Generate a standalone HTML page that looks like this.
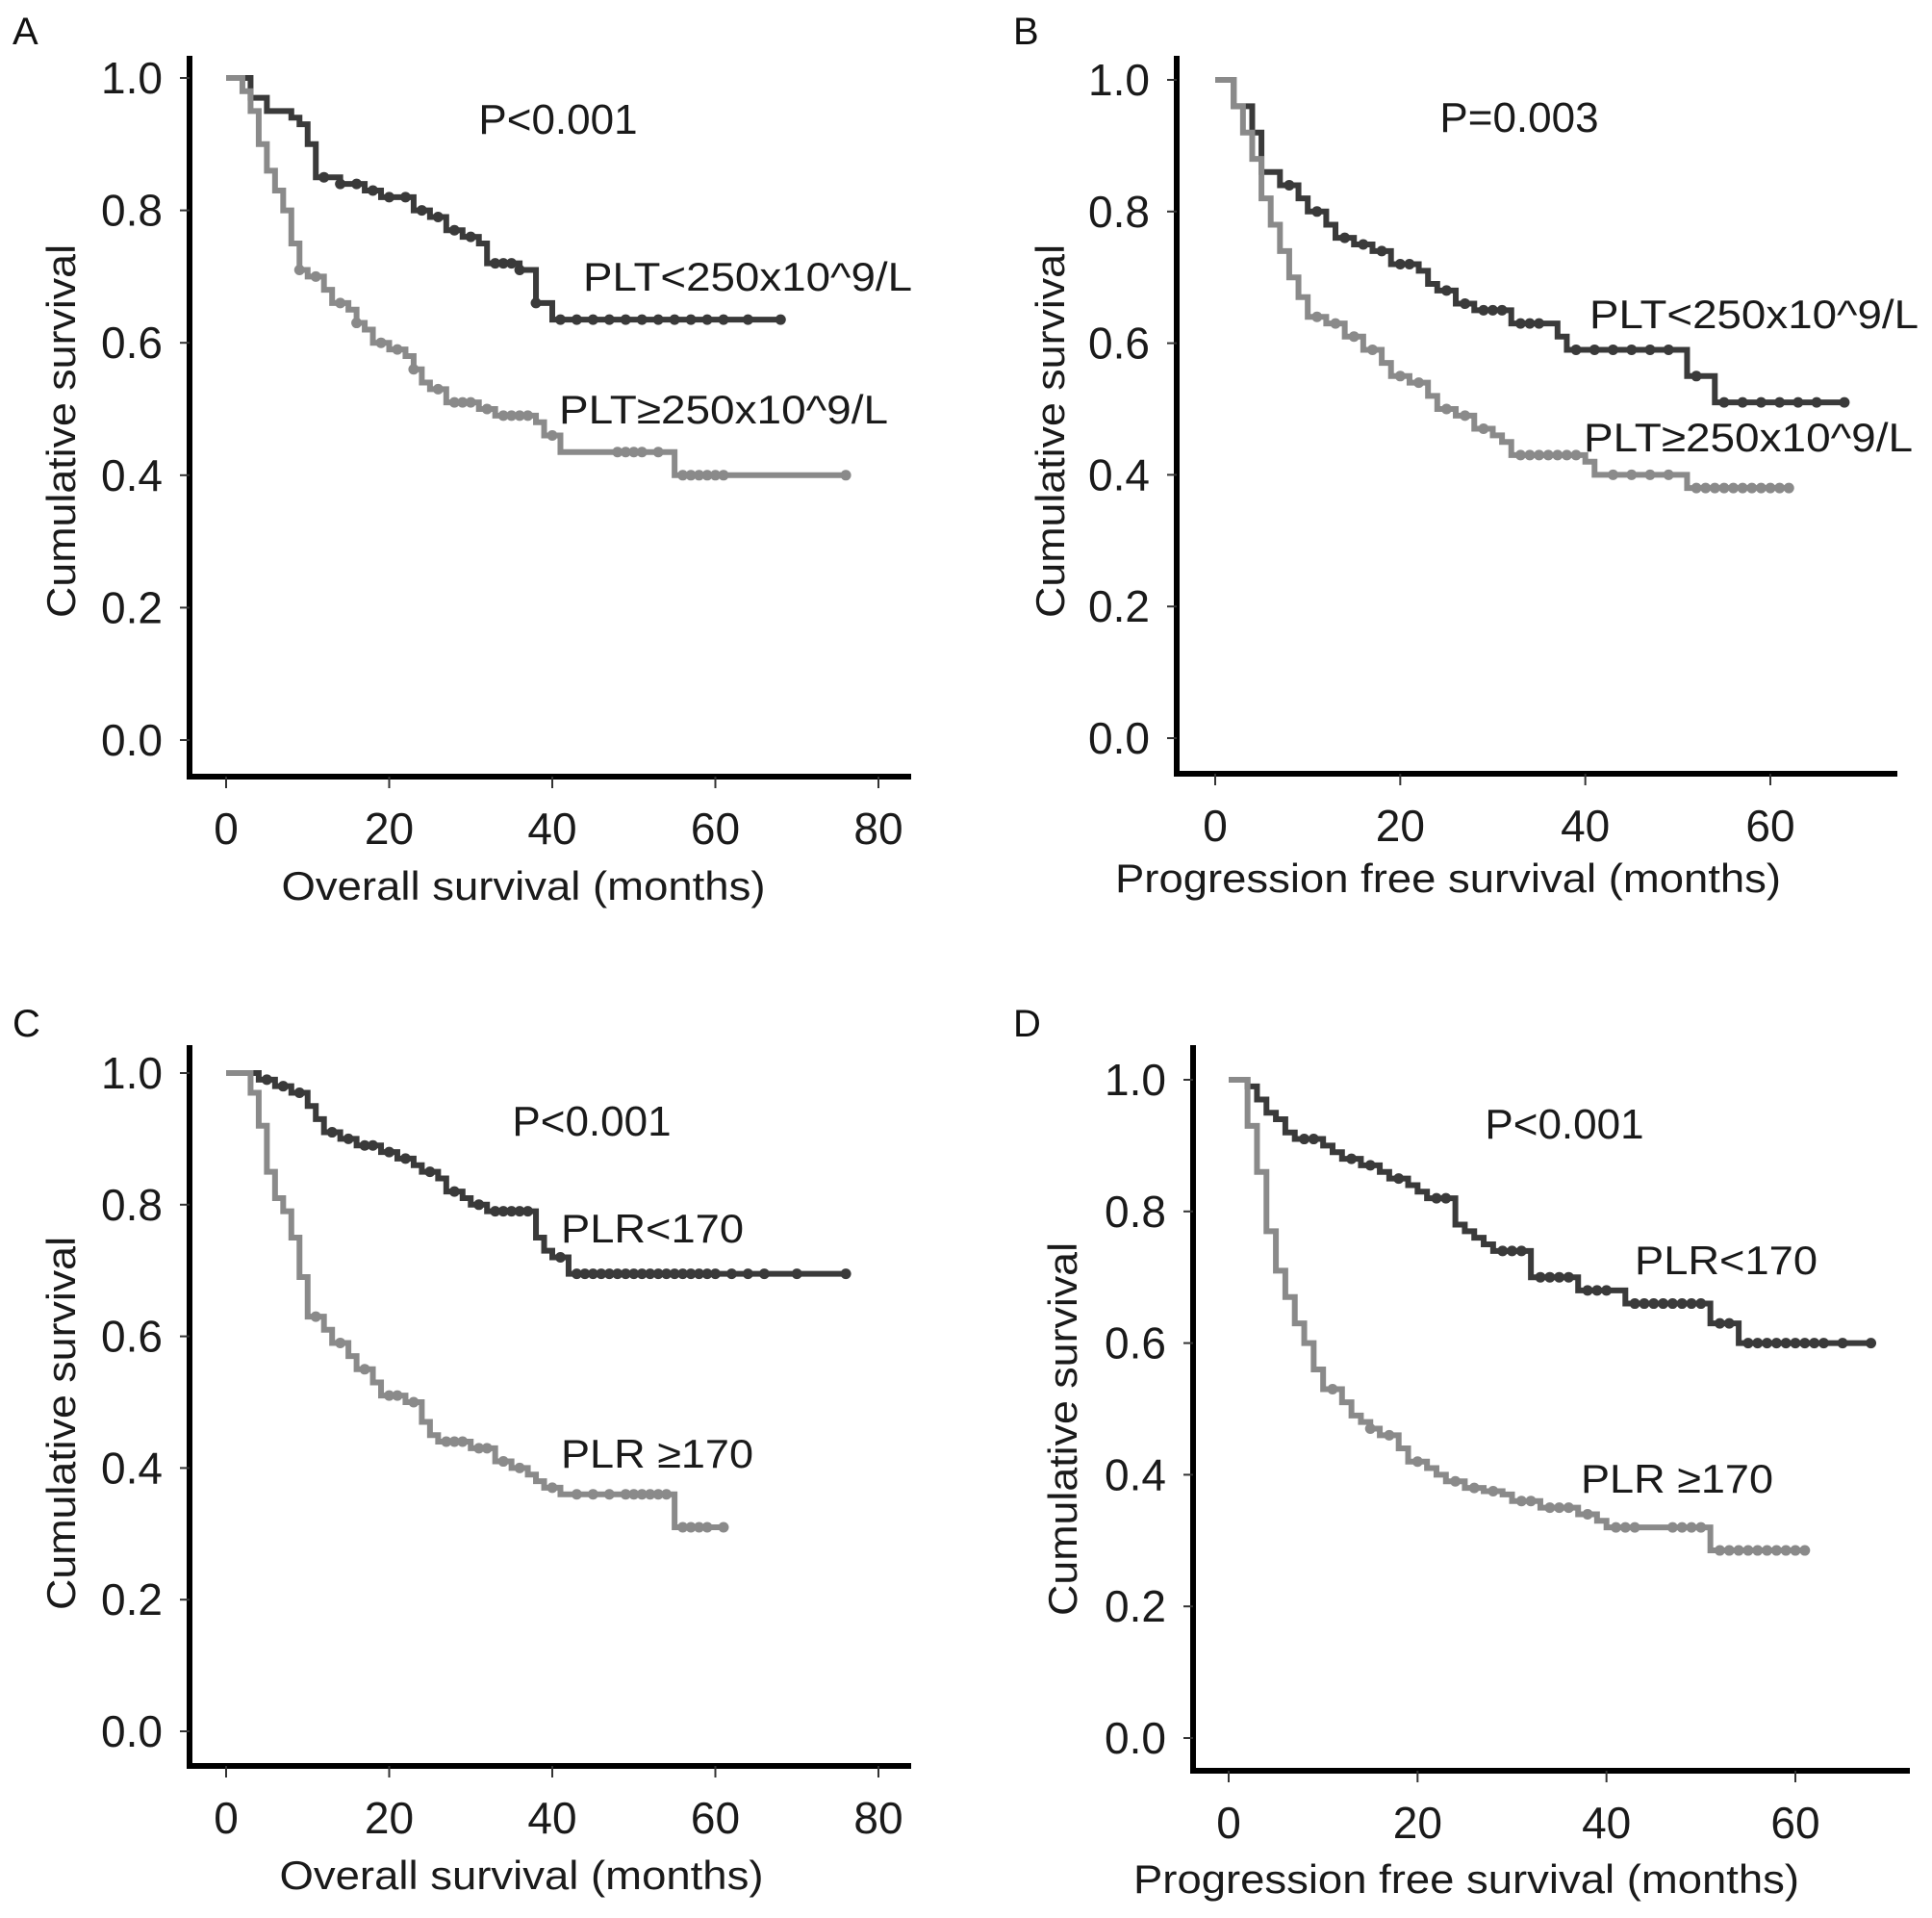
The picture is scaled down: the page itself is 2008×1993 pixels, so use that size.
<!DOCTYPE html>
<html><head><meta charset="utf-8"><style>
html,body{margin:0;padding:0;background:#fff;}
svg{display:block;font-family:"Liberation Sans",Arial,sans-serif;}
</style></head><body>
<svg id="fig" width="2008" height="1993" viewBox="0 0 2008 1993"></svg>
<script>
// ---- data (months, survival) ----
const aHighT=[0,3,5,8,9,10,11,14,17,19,23,25,27,29,31,32,36,38,40];
const aHighS=[1,0.97,0.95,0.94,0.93,0.90,0.85,0.84,0.83,0.82,0.80,0.79,0.77,0.76,0.75,0.72,0.71,0.66,0.635];
const aHighEnd=68;
const aHighCens=[12,14,16,18,20,22,24,26,28,30,33,34,35,36,38,41,43,45,47,49,51,53,55,57,59,61,64,68];
const aLowT=[0,2,3,4,5,6,7,8,9,10,12,13,15,16,17,18,20,22,23,24,25,27,31,33,38,39,41,55];
const aLowS=[1,0.98,0.95,0.90,0.86,0.83,0.80,0.75,0.71,0.70,0.68,0.66,0.65,0.63,0.62,0.60,0.59,0.58,0.56,0.54,0.53,0.51,0.50,0.49,0.48,0.46,0.435,0.40];
const aLowEnd=76;
const aLowCens=[9,11,14,16,19,21,23,26,28,29,30,32,34,35,36,37,40,48,49,50,51,53,56,57,58,59,60,61,76];

const bHighT=[0,2,4,5,7,9,10,12,13,15,17,19,22,23,24,26,28,32,37,38,51,54];
const bHighS=[1,0.96,0.92,0.86,0.84,0.82,0.80,0.78,0.76,0.75,0.74,0.72,0.71,0.69,0.68,0.66,0.65,0.63,0.61,0.59,0.55,0.51];
const bHighEnd=68;
const bHighCens=[8,11,14,16,18,20,21,25,27,29,30,31,33,34,35,39,41,43,45,47,49,52,55,57,59,61,63,65,68];
const bLowT=[0,2,3,4,5,6,7,8,9,10,12,14,16,18,19,21,23,24,26,28,30,31,32,40,41,51];
const bLowS=[1,0.96,0.92,0.88,0.82,0.78,0.74,0.70,0.67,0.64,0.63,0.61,0.59,0.57,0.55,0.54,0.52,0.50,0.49,0.47,0.46,0.45,0.43,0.42,0.40,0.38];
const bLowEnd=62;
const bLowCens=[11,13,15,17,20,22,25,27,29,33,34,35,36,37,38,39,43,45,47,49,52,53,54,55,56,57,58,59,60,61,62];

const cHighT=[0,4,6,8,10,11,12,14,16,19,21,23,24,26,27,29,30,32,38,39,40,42];
const cHighS=[1,0.99,0.98,0.97,0.95,0.93,0.91,0.90,0.89,0.88,0.87,0.86,0.85,0.84,0.82,0.81,0.80,0.79,0.75,0.73,0.72,0.695];
const cHighEnd=76;
const cHighCens=[5,7,9,13,15,17,18,20,22,25,28,31,33,34,35,36,37,41,43,44,45,46,47,48,49,50,51,52,53,54,55,56,57,58,59,60,62,64,66,70,76];
const cLowT=[0,3,4,5,6,7,8,9,10,12,13,15,16,18,19,22,24,25,26,30,33,35,37,38,39,41,55];
const cLowS=[1,0.97,0.92,0.85,0.81,0.79,0.75,0.69,0.63,0.61,0.59,0.57,0.55,0.53,0.51,0.50,0.47,0.45,0.44,0.43,0.41,0.40,0.39,0.38,0.37,0.36,0.31];
const cLowEnd=61;
const cLowCens=[11,14,17,20,21,23,27,28,29,31,32,34,36,40,43,45,47,49,50,51,52,53,54,56,57,58,59,61];

const dHighT=[0,2,3,4,5,6,7,10,11,12,14,16,17,19,20,21,24,25,26,27,28,32,37,42,51,54];
const dHighS=[1,0.99,0.97,0.95,0.94,0.92,0.91,0.90,0.89,0.88,0.87,0.86,0.85,0.84,0.83,0.82,0.78,0.77,0.76,0.75,0.74,0.70,0.68,0.66,0.63,0.60];
const dHighEnd=68;
const dHighCens=[8,9,13,15,18,22,23,29,30,31,33,34,35,36,38,39,40,43,44,45,46,47,48,49,50,52,53,55,56,57,58,59,60,61,62,63,65,68];
const dLowT=[0,2,3,4,5,6,7,8,9,10,12,13,14,15,16,18,19,21,22,23,25,27,29,30,33,37,39,40,51];
const dLowS=[1,0.93,0.86,0.77,0.71,0.67,0.63,0.60,0.56,0.53,0.51,0.49,0.48,0.47,0.46,0.44,0.42,0.41,0.40,0.39,0.38,0.375,0.37,0.36,0.35,0.34,0.33,0.32,0.285];
const dLowEnd=61;
const dLowCens=[11,15,17,20,24,26,28,31,32,34,35,36,38,41,42,43,47,48,49,50,52,53,54,55,56,57,58,59,60,61];

const yTicks=[0,0.2,0.4,0.6,0.8,1.0];
const yTickLabels=["0.0","0.2","0.4","0.6","0.8","1.0"];
const xTicksOS=[0,20,40,60,80];
const xTicksPFS=[0,20,40,60];

const NS="http://www.w3.org/2000/svg";
const svg=document.getElementById('fig');
function mk(tag,attrs,parent){const e=document.createElementNS(NS,tag);for(const k in attrs)e.setAttribute(k,attrs[k]);(parent||svg).appendChild(e);return e;}
function txt(s,attrs,parent){const e=mk('text',attrs,parent);e.textContent=s;return e;}
const DARK="#3a3a3a", LIGHT="#8a8a8a";

function panel(p){
  const g=mk('g',{});
  
  
  const xs=v=>p.x0+(v/p.xUnit)*(p.xU-p.x0);
  const ys=v=>p.y0+(p.y1-p.y0)*v;
  const lt=txt(p.id,{x:p.letterX,y:p.letterY,'font-size':40,fill:'#111'},g);
  
  const ax=mk('path',{d:`M${p.ax} ${p.top} L${p.ax} ${p.axY} L${p.right} ${p.axY}`,fill:'none',stroke:'#000','stroke-width':6},g);
  
  yTicks.forEach((v,i)=>{
    const y=ys(v);
    const t=mk('line',{x1:p.ax-10,x2:p.ax,y1:y,y2:y,stroke:'#333','stroke-width':2},g);
    
    const l=txt(yTickLabels[i],{x:p.ax-28,y:y+16,'text-anchor':'end','font-size':46,fill:'#1a1a1a'},g);
    
  });
  p.xTicks.forEach(v=>{
    const x=xs(v);
    const t=mk('line',{x1:x,x2:x,y1:p.axY,y2:p.axY+12,stroke:'#333','stroke-width':2},g);
    
    const l=txt(String(v),{x:x,y:p.axY+70,'text-anchor':'middle','font-size':46,fill:'#1a1a1a'},g);
    
  });
  const xt=txt(p.xTitle,{x:p.xTitleX,y:p.xTitleY,'text-anchor':'middle','font-size':42,fill:'#1a1a1a',textLength:p.xTitleW,lengthAdjust:'spacingAndGlyphs'},g);
  
  const yt=txt('Cumulative survival',{x:0,y:0,transform:`translate(${p.yTitleX},${p.yTitleY}) rotate(-90)`,'text-anchor':'middle','font-size':42,fill:'#1a1a1a',textLength:388,lengthAdjust:'spacingAndGlyphs'},g);
  
  const pv=txt(p.pText,{x:p.pX,y:p.pY,'text-anchor':'middle','font-size':44,fill:'#1a1a1a'},g);
  
  p.series.forEach(s=>{
    let d=`M${xs(s.t[0])} ${ys(s.s[0])}`;
    for(let i=1;i<s.t.length;i++){d+=` H${xs(s.t[i])} V${ys(s.s[i])}`;}
    d+=` H${xs(s.end)}`;
    const path=mk('path',{d:d,fill:'none',stroke:s.color,'stroke-width':6,'stroke-linejoin':'miter'},g);
    
    s.cens.forEach(c=>{
      let v=s.s[0];for(let i=0;i<s.t.length;i++){if(s.t[i]<=c)v=s.s[i];}
      const dot=mk('circle',{cx:xs(c),cy:ys(v),r:5.5,fill:s.color},g);
      
    });
    const lb=txt(s.label,{x:s.lx,y:s.ly,'font-size':42,fill:'#1a1a1a',textLength:s.lw,lengthAdjust:'spacingAndGlyphs'},g);
    
  });
}

panel({id:'A',letterX:13,letterY:46,ax:197,top:58,axY:807,right:947,x0:235,xU:913,xUnit:80,y0:769,y1:81,xTicks:xTicksOS,
  xTitle:'Overall survival (months)',xTitleX:544,xTitleY:935,xTitleW:503,yTitleX:78,yTitleY:448,pText:'P<0.001',pX:580,pY:139,
  series:[{name:'plt-low',color:DARK,t:aHighT,s:aHighS,end:aHighEnd,cens:aHighCens,label:'PLT<250x10^9/L',lx:606,ly:302,lw:342},
          {name:'plt-high',color:LIGHT,t:aLowT,s:aLowS,end:aLowEnd,cens:aLowCens,label:'PLT≥250x10^9/L',lx:581,ly:440,lw:342}]});
panel({id:'B',letterX:1053,letterY:46,ax:1223,top:58,axY:804,right:1972,x0:1263,xU:1840,xUnit:60,y0:767,y1:83,xTicks:xTicksPFS,
  xTitle:'Progression free survival (months)',xTitleX:1505,xTitleY:927,xTitleW:692,yTitleX:1106,yTitleY:448,pText:'P=0.003',pX:1579,pY:137,
  series:[{name:'plt-low',color:DARK,t:bHighT,s:bHighS,end:bHighEnd,cens:bHighCens,label:'PLT<250x10^9/L',lx:1652,ly:341,lw:342},
          {name:'plt-high',color:LIGHT,t:bLowT,s:bLowS,end:bLowEnd,cens:bLowCens,label:'PLT≥250x10^9/L',lx:1646,ly:469,lw:342}]});
panel({id:'C',letterX:13,letterY:1077,ax:197,top:1086,axY:1835,right:947,x0:235,xU:913,xUnit:80,y0:1799,y1:1115,xTicks:xTicksOS,
  xTitle:'Overall survival (months)',xTitleX:542,xTitleY:1963,xTitleW:503,yTitleX:78,yTitleY:1479,pText:'P<0.001',pX:615,pY:1180,
  series:[{name:'plr-low',color:DARK,t:cHighT,s:cHighS,end:cHighEnd,cens:cHighCens,label:'PLR<170',lx:583,ly:1291,lw:190},
          {name:'plr-high',color:LIGHT,t:cLowT,s:cLowS,end:cLowEnd,cens:cLowCens,label:'PLR ≥170',lx:583,ly:1525,lw:200}]});
panel({id:'D',letterX:1053,letterY:1077,ax:1240,top:1086,axY:1840,right:1985,x0:1277,xU:1866,xUnit:60,y0:1806,y1:1122,xTicks:xTicksPFS,
  xTitle:'Progression free survival (months)',xTitleX:1524,xTitleY:1967,xTitleW:692,yTitleX:1119,yTitleY:1485,pText:'P<0.001',pX:1626,pY:1183,
  series:[{name:'plr-low',color:DARK,t:dHighT,s:dHighS,end:dHighEnd,cens:dHighCens,label:'PLR<170',lx:1699,ly:1324,lw:190},
          {name:'plr-high',color:LIGHT,t:dLowT,s:dLowS,end:dLowEnd,cens:dLowCens,label:'PLR ≥170',lx:1643,ly:1551,lw:200}]});
</script>
</body></html>
